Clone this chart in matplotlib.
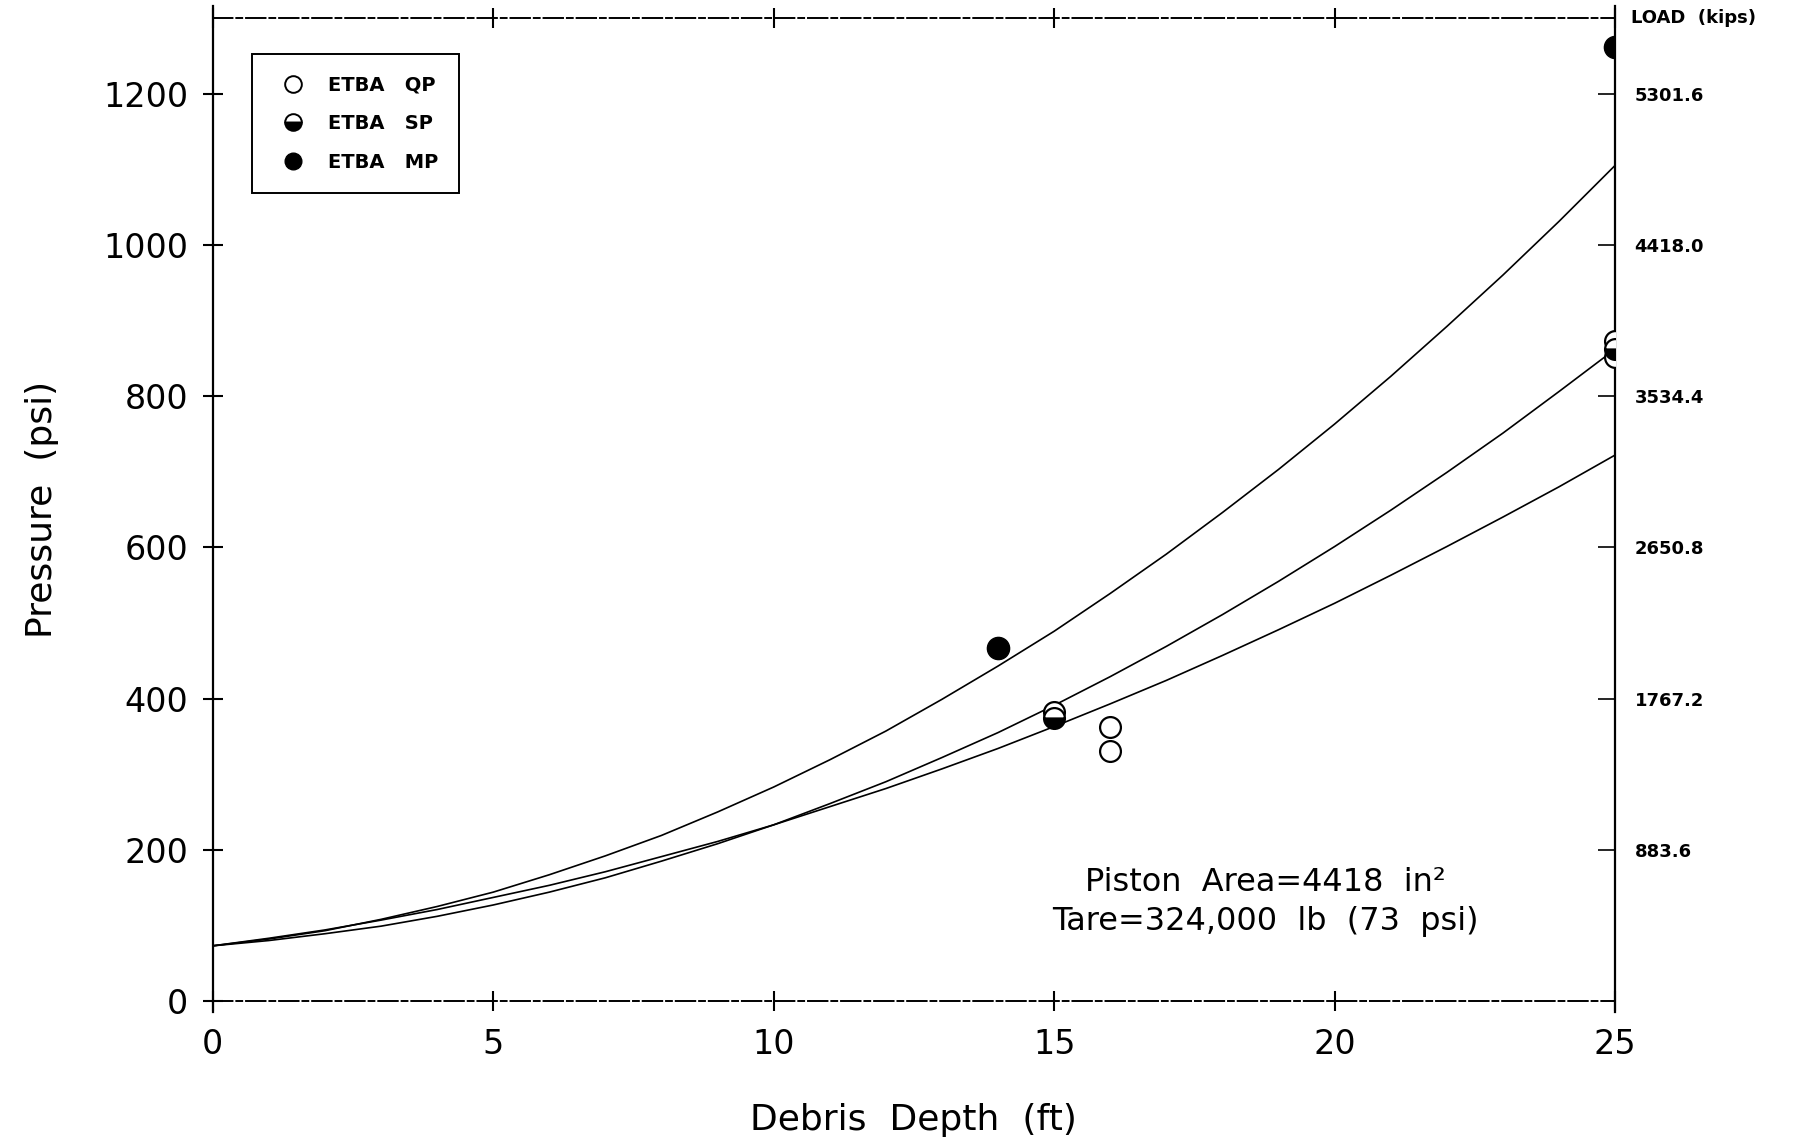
import matplotlib.pyplot as plt
from matplotlib.lines import Line2D

# curve values (psi) at every 1 ft
depth = list(range(0, 26))
fit_mp = [73, 82, 93, 108, 125, 144, 167, 192, 219, 250, 283, 319, 357, 399, 443,
          489, 539, 591, 646, 703, 763, 826, 892, 960, 1031, 1105]
fit_sp = [73, 80, 89, 99, 112, 127, 144, 163, 185, 208, 233, 261, 290, 322, 355,
          391, 429, 469, 511, 555, 601, 649, 699, 751, 806, 862]
fit_qp = [73, 83, 94, 107, 121, 137, 153, 171, 191, 211, 233, 257, 281, 307, 334,
          363, 393, 424, 457, 491, 526, 563, 601, 640, 680, 722]

# measured points
qp_x = [15, 16, 16, 25, 25]
qp_y = [382, 362, 330, 873, 852]
sp_x = [15, 25]
sp_y = [374, 862]
mp_x = [14, 25]
mp_y = [467, 1262]

x_ticks = [0, 5, 10, 15, 20, 25]
y_ticks = [0, 200, 400, 600, 800, 1000, 1200]
load_ticks = [200, 400, 600, 800, 1000, 1200]
load_labels = ["883.6", "1767.2", "2650.8", "3534.4", "4418.0", "5301.6"]

plt.rcParams['font.family'] = 'DejaVu Sans'

fig = plt.figure(figsize=(18.09, 11.46), dpi=100)
ax = fig.add_axes([0.1176, 0.1265, 0.7752, 0.8578])

for fit in [fit_mp, fit_sp, fit_qp]:
    ax.plot(depth, fit, color='black', lw=1.2)

ax.plot(qp_x, qp_y, 'o', ms=15, mfc='white', mec='black', mew=1.6, ls='none', zorder=3)
ax.plot(sp_x, sp_y, 'o', ms=15, fillstyle='bottom', mfc='black', mfcalt='white',
        mec='black', mew=1.6, ls='none', zorder=4)
ax.plot(mp_x, mp_y, 'o', ms=16, mfc='black', mec='black', ls='none', zorder=5)

ax.set_xlim(0, 25)
ax.set_ylim(0, 1300)
ax.set_xticks(x_ticks)
ax.set_yticks(y_ticks)
ax.tick_params(axis='both', direction='inout', length=15, width=1.5, labelsize=24, pad=10)
ax.tick_params(axis='x', top=True, pad=12)

for s in ['left', 'right']:
    ax.spines[s].set_linewidth(1.6)
ax.spines['left'].set_bounds(-14, 1316)
ax.spines['right'].set_bounds(-14, 1316)
for s in ['top', 'bottom']:
    ax.spines[s].set_linewidth(1.4)
    ax.spines[s].set_linestyle((0, (10, 2, 3, 2)))

ax.set_xlabel("Debris  Depth  (ft)", fontsize=26, labelpad=30)
ax.set_ylabel("Pressure  (psi)", fontsize=26, labelpad=32)

ax2 = ax.twinx()
ax2.set_ylim(ax.get_ylim())
ax2.set_yticks(load_ticks)
ax2.set_yticklabels(load_labels, fontsize=13, fontweight='bold')
ax2.tick_params(axis='y', direction='in', length=12, width=1.2, pad=14)
for s in ['left', 'right', 'top', 'bottom']:
    ax2.spines[s].set_visible(False)
ax2.text(1.011, 1.0, "LOAD  (kips)", transform=ax2.transAxes, fontsize=13,
         fontweight='bold', ha='left', va='center')

ax.text(18.76, 131, "Piston  Area=4418  in\u00b2\nTare=324,000  lb  (73  psi)", fontsize=23,
        ha='center', va='center', linespacing=1.35)

handles = [
    Line2D([], [], marker='o', ls='none', ms=12, mfc='white', mec='black', mew=1.4),
    Line2D([], [], marker='o', ls='none', ms=12, fillstyle='bottom', mfc='black',
           mfcalt='white', mec='black', mew=1.4),
    Line2D([], [], marker='o', ls='none', ms=12, mfc='black', mec='black'),
]
leg = ax.legend(handles, ["ETBA   QP", "ETBA   SP", "ETBA   MP"], loc='upper left',
                bbox_to_anchor=(0.025, 0.967), fancybox=False, edgecolor='black',
                framealpha=1, borderpad=1.1, labelspacing=1.0, handletextpad=0.8,
                borderaxespad=0.2, prop={'size': 14, 'weight': 'bold'})
leg.get_frame().set_linewidth(1.4)

plt.savefig("out.png")
